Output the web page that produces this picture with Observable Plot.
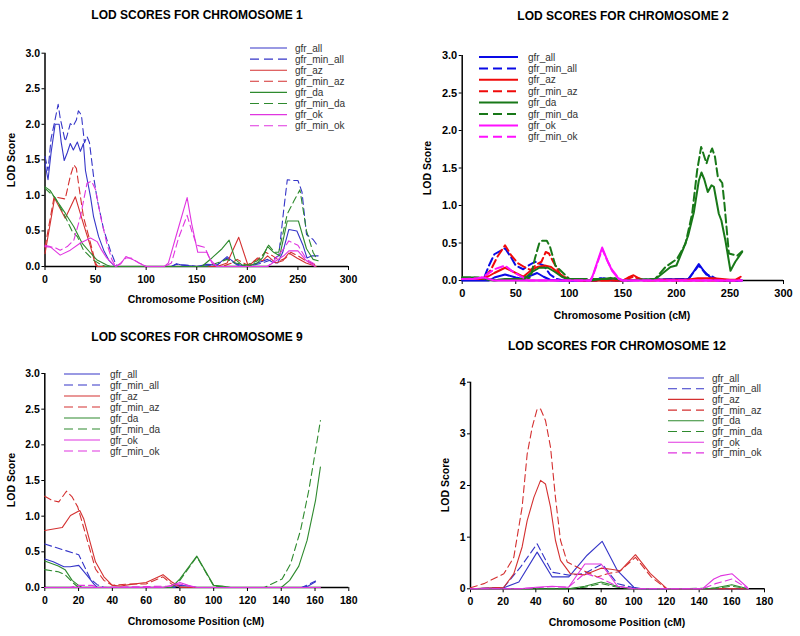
<!DOCTYPE html>
<html><head><meta charset="utf-8">
<script src="https://cdn.jsdelivr.net/npm/d3@7"></script>
<script src="https://cdn.jsdelivr.net/npm/@observablehq/plot@0.6"></script>
<style>
body{margin:0;background:#fff;}
#root{position:relative;width:800px;height:636px;overflow:hidden;font-family:"Liberation Sans",Arial,sans-serif;background:#fff;}
.panel{position:absolute;}
.t{position:absolute;white-space:nowrap;transform:translate(-50%,-50%);font-weight:bold;color:#000;line-height:1;}
.ty{position:absolute;white-space:nowrap;transform:translate(-50%,-50%) rotate(-90deg);font-weight:bold;color:#000;line-height:1;}
</style></head><body><div id="root"></div>
<script>
// ---------- series names (legend order) ----------
const seriesNames = ["gfr_all","gfr_min_all","gfr_az","gfr_min_az","gfr_da","gfr_min_da","gfr_ok","gfr_min_ok"];

// ---------- Chromosome 1 : [position cM, LOD] ----------
const chr1_gfr_all = [[0,1.45],[3,1.22],[6,1.6],[10,2.0],[14,2.0],[16,1.75],[19,1.49],[22,1.6],[25,1.73],[28,1.64],[32,1.75],[35,1.62],[38,1.73],[40,1.35],[45,0.98],[48,0.7],[53,0.42],[58,0.23],[63,0.09],[68,0.02],[70,0],[125,0],[130,0.04],[135,0.02],[150,0],[160,0.03],[170,0.02],[180,0.14],[185,0.08],[190,0.03],[200,0],[210,0.05],[220,0.1],[225,0.06],[230,0.05],[235,0.2],[241,0.52],[249,0.5],[255,0.3],[259,0.12],[264,0.15],[270,0.15]];
const chr1_gfr_min_all = [[0,1.55],[3,1.35],[6,1.8],[9,2.0],[13,2.28],[15,2.09],[20,1.76],[22,1.85],[25,2.01],[28,1.98],[31,2.06],[33,2.19],[36,2.13],[39,1.74],[41.5,1.83],[44,1.74],[48,1.27],[51.5,0.95],[58,0.52],[64.5,0.23],[69.5,0.05],[72,0],[125,0],[130,0.03],[140,0.02],[150,0],[170,0.02],[180,0.12],[190,0.02],[200,0],[215,0.05],[225,0.1],[231,0.15],[236,0.8],[239.5,1.22],[245,1.21],[250,1.21],[254,1.05],[258.5,0.45],[265,0.38],[270,0.28]];
const chr1_gfr_az = [[0,0.18],[9.5,0.96],[20,0.68],[30,0.98],[38,0.6],[45,0.28],[50,0.02],[52,0],[170,0],[180,0.05],[191.5,0.41],[201,0],[210,0.12],[215,0.08],[220,0.15],[228,0.05],[235,0.08],[241,0.19],[249,0.12],[258,0.05],[268,0]];
const chr1_gfr_min_az = [[0,0.27],[9,0.98],[20,0.95],[25,1.27],[28.5,1.43],[31,1.38],[34,1.08],[38,0.7],[45,0.33],[50,0.05],[52,0],[175,0],[185,0.05],[190,0.1],[200,0.02],[210,0.1],[218,0.2],[225,0.15],[232,0.08],[238,0.12],[243,0.2],[250,0.15],[258,0.08],[268,0.02]];
const chr1_gfr_da = [[0,1.12],[5,1.07],[10,0.96],[20,0.75],[28.5,0.56],[36.6,0.33],[45,0.19],[51.5,0.09],[61,0.02],[65,0],[155,0],[165,0.12],[175,0.25],[182,0.37],[188,0.1],[195,0.02],[200,0],[210,0.05],[215,0.12],[220,0.28],[226,0.2],[232,0.15],[239.5,0.64],[250.5,0.64],[258.5,0.25],[265,0.1],[270,0.08]];
const chr1_gfr_min_da = [[0,1.1],[10,0.97],[20,0.7],[27,0.49],[32,0.42],[38,0.23],[48,0.09],[56,0.02],[60,0],[160,0],[170,0.05],[180,0.1],[188,0.05],[200,0.02],[210,0.08],[215,0.15],[221,0.3],[227,0.2],[231,0.2],[239.5,0.74],[246,0.92],[252,1.08],[258.5,0.5],[265,0.2],[268.5,0.11]];
const chr1_gfr_ok = [[0,0.3],[5,0.28],[15,0.16],[25,0.23],[35,0.33],[45,0.4],[51.5,0.35],[56,0.23],[61,0.12],[66,0.05],[70,0],[75,0.04],[80,0.14],[86.5,0.1],[93,0.05],[100,0],[118,0],[122,0.05],[130,0.45],[140.5,0.97],[145,0.6],[151,0.2],[160,0.2],[165,0.05],[170,0],[220,0],[225,0.05],[236,0.15],[241,0.22],[250,0.22],[258.5,0.08],[267,0]];
const chr1_gfr_min_ok = [[0,0.28],[9,0.27],[15,0.23],[22,0.28],[28.5,0.37],[35,0.7],[41.5,1.17],[46,1.2],[50,1.08],[55,0.7],[61,0.33],[66,0.1],[70,0],[75,0.05],[80,0.12],[85,0.12],[93,0.05],[100,0],[118,0],[125,0.05],[132,0.4],[140.5,0.72],[145,0.5],[150,0.3],[158,0.27],[163,0.1],[170,0],[220,0],[226,0.08],[236,0.25],[241,0.36],[250,0.3],[258.5,0.1],[268,0.02]];

// ---------- Chromosome 2 ----------
const chr2_gfr_all = [[0,0],[25,0],[30,0.04],[40,0.08],[50,0.04],[57,0.02],[63,0.06],[70,0.1],[76,0.05],[82,0.01],[90,0],[125,0],[130,0.03],[135,0.01],[140,0],[211.6,0.02],[220.9,0.22],[226,0.12],[231.8,0.04],[238,0],[261,0]];
const chr2_gfr_min_all = [[0,0.02],[20,0.02],[25,0.2],[30,0.35],[40,0.43],[46,0.3],[50,0.2],[57,0.15],[62,0.2],[68,0.25],[76,0.2],[82,0.08],[88,0.02],[95,0],[125,0],[130,0.04],[135,0.02],[140,0],[211,0.02],[220.9,0.2],[228,0.08],[234,0.05],[240,0],[261,0]];
const chr2_gfr_az = [[0,0.02],[20,0.02],[30,0.1],[40,0.17],[50,0.1],[57,0.05],[63,0.12],[70,0.18],[77,0.2],[83,0.18],[90,0.1],[97,0.03],[100,0.02],[110,0],[150,0],[155,0.04],[160,0.07],[165,0.03],[170,0],[180,0.01],[210,0.01],[220,0.03],[235,0.03],[250,0.01],[255,0.01],[260,0.05]];
const chr2_gfr_min_az = [[0,0.02],[20,0.02],[27,0.15],[33,0.32],[40,0.47],[46,0.33],[52,0.23],[58,0.18],[64,0.14],[70,0.22],[74,0.25],[78,0.38],[81,0.36],[85,0.25],[92,0.07],[100,0.02],[110,0],[150,0],[160,0.05],[170,0],[255,0],[261,0.03]];
const chr2_gfr_da = [[0,0.04],[10,0.04],[20,0.03],[25,0.01],[30,0],[40,0.02],[55,0.02],[60,0.05],[66,0.12],[72,0.17],[80,0.17],[86,0.12],[93,0.05],[98,0.02],[110,0.02],[120,0],[130,0.02],[140,0.03],[145,0.02],[150,0],[180.5,0.02],[194.5,0.18],[200,0.2],[206.9,0.44],[211,0.6],[216.3,0.91],[220.9,1.33],[223.4,1.44],[226,1.35],[229.3,1.18],[232.8,1.27],[235,1.25],[239.6,0.89],[242,0.8],[245.8,0.53],[250.5,0.13],[255,0.25],[261.4,0.38]];
const chr2_gfr_min_da = [[0,0.04],[15,0.04],[20,0.02],[30,0.01],[55,0.01],[63.8,0.04],[68,0.3],[72,0.5],[74.7,0.53],[79,0.53],[82,0.45],[87,0.2],[96.4,0.07],[100,0.02],[120,0.02],[135,0.02],[140,0.04],[145,0.02],[150,0],[180,0.02],[189.8,0.18],[200.7,0.29],[208.5,0.49],[214.7,0.89],[219.4,1.47],[223.1,1.78],[225,1.7],[228.1,1.56],[230,1.65],[233.4,1.76],[236,1.65],[238.7,1.38],[242.8,1.3],[245,1.0],[249,0.36],[256.8,0.33],[261.4,0.39]];
const chr2_gfr_ok = [[0,0.02],[10,0.02],[20,0.04],[25,0.02],[30,0],[119.8,0],[122,0.07],[130.7,0.44],[136,0.25],[140,0.13],[146.2,0.02],[150,0],[261,0]];
const chr2_gfr_min_ok = [[0,0.02],[15,0.03],[20,0.05],[30,0.15],[40,0.2],[47,0.12],[53,0.07],[58,0.03],[62,0],[119.8,0],[122,0.06],[130.7,0.42],[136,0.25],[140,0.14],[146.2,0.03],[150,0],[261,0]];

// ---------- Chromosome 9 ----------
const chr9_gfr_all = [[0,0.4],[5,0.36],[11.3,0.29],[15,0.29],[20.1,0.31],[25,0.17],[29,0.05],[31,0],[75,0],[80,0.03],[85,0.02],[90,0],[152.4,0],[156,0.02],[160.3,0.08]];
const chr9_gfr_min_all = [[0,0.61],[9.3,0.54],[20.1,0.46],[27,0.12],[31,0.04],[35,0],[152,0],[156,0.04],[160.3,0.09]];
const chr9_gfr_az = [[0,0.8],[10.3,0.84],[15.2,1.01],[20.7,1.08],[23.1,0.96],[30,0.36],[35,0.15],[40,0.03],[45,0.02],[50,0.04],[60,0.07],[70,0.18],[75,0.08],[80,0.01],[85,0],[163,0]];
const chr9_gfr_min_az = [[0,1.28],[4.4,1.22],[8.3,1.2],[12.8,1.35],[16.2,1.27],[19.5,1.13],[24.1,0.75],[30,0.26],[35,0.1],[40,0.03],[50,0.05],[60,0.05],[70,0.15],[75,0.05],[80,0],[163,0]];
const chr9_gfr_da = [[0,0.37],[8,0.3],[12,0.25],[16.2,0.1],[20,0.03],[22,0],[75,0],[80,0.12],[90,0.44],[100,0.03],[105,0.02],[110,0],[140,0],[145,0.1],[150.4,0.3],[155.3,0.66],[160.3,1.22],[163.2,1.69]];
const chr9_gfr_min_da = [[0,0.25],[8,0.22],[12,0.18],[17,0.06],[20,0],[75,0],[80,0.1],[90,0.43],[100,0.02],[110,0],[130,0],[140.5,0.12],[145.5,0.33],[151.4,0.8],[156.3,1.36],[160.3,1.92],[163.2,2.34]];
const chr9_gfr_ok = [[0,0],[70,0],[75,0.03],[80,0.07],[85,0.03],[90,0],[163,0]];
const chr9_gfr_min_ok = [[0,0],[15,0],[20,0.03],[28,0.03],[32,0],[75,0.02],[80,0.05],[85,0.02],[90,0],[163,0]];

// ---------- Chromosome 12 ----------
const chr12_gfr_all = [[0,0],[20.4,0.02],[29.6,0.13],[40.8,0.71],[50,0.23],[60.2,0.23],[71.4,0.65],[80.6,0.92],[90,0.35],[100,0.03],[105,0],[170,0]];
const chr12_gfr_min_all = [[0,0],[20.4,0.03],[30.6,0.42],[40.8,0.87],[50,0.32],[61.2,0.26],[70,0.3],[80.6,0.48],[90,0.1],[100,0.02],[105,0],[170,0]];
const chr12_gfr_az = [[0,0],[20.4,0.03],[26.5,0.29],[31.6,0.81],[34.7,1.32],[38.8,1.77],[42.9,2.1],[45.9,2.03],[49,1.58],[52,0.94],[55.1,0.55],[61.2,0.29],[70,0.27],[80,0.4],[86,0.38],[91.8,0.35],[101,0.66],[110,0.3],[120.4,0],[170,0]];
const chr12_gfr_min_az = [[0,0.02],[8.2,0.1],[20.4,0.29],[26.5,0.61],[31.6,1.58],[34.7,2.61],[37.8,3.13],[40.8,3.48],[42.9,3.48],[45.9,3.26],[49,2.74],[52,1.77],[55.1,0.94],[59.2,0.52],[69.4,0.35],[77.6,0.23],[85,0.3],[91,0.33],[101,0.61],[110.6,0.23],[120,0],[170,0]];
const chr12_gfr_da = [[0,0],[60,0],[70,0.05],[80,0.13],[90,0.05],[100,0],[145,0],[150,0.02],[160,0.08],[170,0]];
const chr12_gfr_min_da = [[0,0],[60,0],[70,0.03],[80,0.1],[90,0.03],[100,0],[150,0.01],[160,0.05],[170,0]];
const chr12_gfr_ok = [[0,0],[30,0],[40,0.03],[50,0.05],[60,0.03],[70,0.48],[80,0.48],[90,0.05],[100,0],[141.9,0],[149,0.19],[153,0.25],[160.2,0.29],[169.4,0.03],[170,0]];
const chr12_gfr_min_ok = [[0,0],[30,0],[40,0.02],[50,0.04],[60,0.03],[70,0.3],[80,0.2],[90,0.05],[100,0],[142,0],[150,0.1],[160.2,0.19],[170,0]];

// ---------- titles / axis text ----------
const panelTitles = ["LOD SCORES FOR CHROMOSOME 1","LOD SCORES FOR CHROMOSOME 2","LOD SCORES FOR CHROMOSOME 9","LOD SCORES FOR CHROMOSOME 12"];
const xAxisTitle = "Chromosome Position (cM)";
const yAxisTitle = "LOD Score";
const xTicks300 = [0,50,100,150,200,250,300];
const xTicks180 = [0,20,40,60,80,100,120,140,160,180];
const yTicks3 = [0,0.5,1,1.5,2,2.5,3];
const yTicks4 = [0,1,2,3,4];

// ---------- layout / style (code, not data) ----------
const thinColors = {all:"#3535c8", az:"#d43030", da:"#2e8a2e", ok:"#e035e0"};
const boldColors = {all:"#0a0ae6", az:"#f00a0a", da:"#187818", ok:"#ff10ff"};
const groupOf = name => name.replace("gfr_","").replace("min_","");
const isDashed = name => name.includes("_min_");

const panels = [
  {left:0,top:0,w:400,h:310,m:{t:52.7,r:52,b:44,l:44.5}, xMax:300, xTicks:xTicks300, yMax:3, yTicks:yTicks3, yFmt:d3.format(".1f"),
   series:[chr1_gfr_all,chr1_gfr_min_all,chr1_gfr_az,chr1_gfr_min_az,chr1_gfr_da,chr1_gfr_min_da,chr1_gfr_ok,chr1_gfr_min_ok],
   colors:thinColors, sw:1.1, font:10.5,
   title:{x:197,y:15}, xl:{x:196,y:299}, yl:{x:11,y:160}, leg:{x1:250,x2:287,tx:295,y0:48,dy:11.1}},
  {left:400,top:0,w:400,h:310,m:{t:55,r:17,b:30,l:61.7}, xMax:300, xTicks:xTicks300, yMax:3, yTicks:yTicks3, yFmt:d3.format(".1f"),
   series:[chr2_gfr_all,chr2_gfr_min_all,chr2_gfr_az,chr2_gfr_min_az,chr2_gfr_da,chr2_gfr_min_da,chr2_gfr_ok,chr2_gfr_min_ok],
   colors:boldColors, sw:2, font:11,
   title:{x:623,y:16}, xl:{x:622,y:315}, yl:{x:427,y:168}, leg:{x1:479,x2:518,tx:528,y0:57,dy:11.4}},
  {left:0,top:310,w:400,h:326,m:{t:63,r:51.7,b:49,l:44.3}, xMax:180, xTicks:xTicks180, yMax:3, yTicks:yTicks3, yFmt:d3.format(".1f"),
   series:[chr9_gfr_all,chr9_gfr_min_all,chr9_gfr_az,chr9_gfr_min_az,chr9_gfr_da,chr9_gfr_min_da,chr9_gfr_ok,chr9_gfr_min_ok],
   colors:thinColors, sw:1.1, font:10.5,
   title:{x:197,y:337}, xl:{x:196,y:621}, yl:{x:11,y:480}, leg:{x1:64,x2:100,tx:110,y0:374,dy:11}},
  {left:400,top:310,w:400,h:326,m:{t:71.7,r:36,b:47.7,l:70}, xMax:180, xTicks:xTicks180, yMax:4, yTicks:yTicks4, yFmt:d3.format("d"),
   series:[chr12_gfr_all,chr12_gfr_min_all,chr12_gfr_az,chr12_gfr_min_az,chr12_gfr_da,chr12_gfr_min_da,chr12_gfr_ok,chr12_gfr_min_ok],
   colors:thinColors, sw:1.1, font:10.5,
   title:{x:617,y:346}, xl:{x:617,y:622}, yl:{x:445,y:485}, leg:{x1:668,x2:704,tx:712,y0:378,dy:10.7}}
];

const root = document.getElementById("root");

panels.forEach((p, pi) => {
  const marks = [
    Plot.ruleY([0], {stroke:"#000", strokeWidth:1.5}),
    Plot.ruleX([0], {stroke:"#000", strokeWidth:1.5})
  ];
  p.series.forEach((pts, i) => {
    const name = seriesNames[i];
    marks.push(Plot.line(pts, {
      x: d => d[0], y: d => d[1],
      stroke: p.colors[groupOf(name)],
      strokeWidth: p.sw,
      strokeDasharray: isDashed(name) ? (p.sw > 1.5 ? "8,4" : "7,4") : undefined,
      strokeLinejoin: "round"
    }));
  });
  const chart = Plot.plot({
    width: p.w, height: p.h,
    marginTop: p.m.t, marginRight: p.m.r, marginBottom: p.m.b, marginLeft: p.m.l,
    style: {fontFamily:'"Liberation Sans", Arial, sans-serif', fontSize: p.font + "px", fontWeight:"bold", color:"#000", background:"transparent", overflow:"visible"},
    x: {domain:[0, p.xMax], ticks: p.xTicks, tickSize:4, tickPadding:5, label:null},
    y: {domain:[0, p.yMax], ticks: p.yTicks, tickFormat: p.yFmt, tickSize:3, tickPadding:2, label:null},
    marks
  });
  const holder = document.createElement("div");
  holder.className = "panel";
  holder.style.left = p.left + "px";
  holder.style.top = p.top + "px";
  holder.style.width = p.w + "px";
  holder.style.height = p.h + "px";
  holder.appendChild(chart);
  root.appendChild(holder);

  const addText = (cls, txt, x, y, size) => {
    const d = document.createElement("div");
    d.className = cls; d.textContent = txt;
    d.style.left = x + "px"; d.style.top = y + "px"; d.style.fontSize = size + "px";
    root.appendChild(d);
  };
  addText("t", panelTitles[pi], p.title.x, p.title.y, 12);
  addText("t", xAxisTitle, p.xl.x, p.xl.y, 10.5);
  addText("ty", yAxisTitle, p.yl.x, p.yl.y, 10.5);
});

// legends overlay
const overlay = d3.select(root).append("svg")
  .attr("width", 800).attr("height", 636)
  .style("position","absolute").style("left",0).style("top",0).style("pointer-events","none");
panels.forEach(p => {
  const g = overlay.append("g");
  seriesNames.forEach((name, i) => {
    const y = p.leg.y0 + i * p.leg.dy;
    g.append("line").attr("x1", p.leg.x1).attr("x2", p.leg.x2).attr("y1", y).attr("y2", y)
      .attr("stroke", p.colors[groupOf(name)]).attr("stroke-width", p.sw)
      .attr("stroke-dasharray", isDashed(name) ? "9,5" : null);
    g.append("text").attr("x", p.leg.tx).attr("y", y).attr("dy", "0.35em")
      .attr("font-family", '"Liberation Sans", Arial, sans-serif').attr("font-size", 10)
      .attr("fill", "#333").text(name);
  });
});
</script></body></html>
